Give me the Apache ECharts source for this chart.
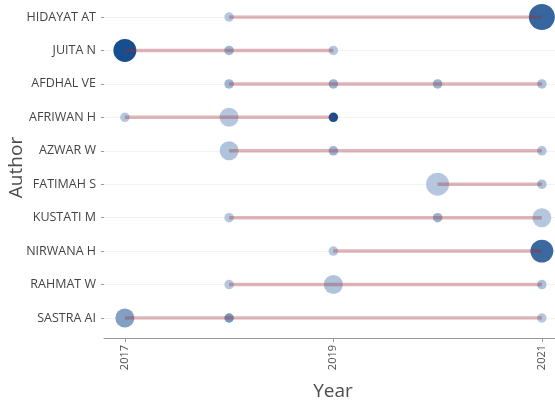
<!DOCTYPE html>
<html>
<head>
<meta charset="utf-8">
<script src="https://cdn.jsdelivr.net/npm/echarts@6/dist/echarts.min.js"></script>
<style>html,body{margin:0;padding:0;background:#fff;}#chart{width:555px;height:403px;}</style>
</head>
<body>
<div id="chart"></div>
<script>
// Authors (top to bottom)
const authors = ['HIDAYAT AT','JUITA N','AFDHAL VE','AFRIWAN H','AZWAR W','FATIMAH S','KUSTATI M','NIRWANA H','RAHMAT W','SASTRA AI'];
// Year tick labels
const yearTicks = [2017, 2019, 2021];
// Points: author index, year, number of articles, total citations per year
const pointAuthor   = [0,0, 1,1,1, 2,2,2,2, 3,3,3, 4,4,4, 5,5, 6,6,6, 7,7, 8,8,8, 9,9,9];
const pointYear     = [2018,2021, 2017,2018,2019, 2018,2019,2020,2021, 2017,2018,2019, 2018,2019,2021, 2020,2021, 2018,2020,2021, 2019,2021, 2018,2019,2021, 2017,2018,2021];
const pointArticles = [1,4, 3,1,1, 1,1,1,1, 1,2,1, 2,1,1, 3,1, 1,1,2, 1,3, 1,2,1, 2,1,1];
const pointTC       = [1,8.2, 10,2.3,1, 2.3,2.5,2.5,1.5, 1,1,10, 1.3,2.5,1.3, 1,1.5, 1,2.5,1, 1,8, 1,1.3,1.5, 3.9,4.6,1];

const scatterData = pointAuthor.map((a, i) => [pointYear[i], a, pointArticles[i], pointTC[i]]);

// one segment per author, from first to last year
const lineSeries = authors.map((name, ai) => {
  const ys = pointYear.filter((y, i) => pointAuthor[i] === ai);
  return {
    type: 'line', name: name, silent: true, symbol: 'none', z: 5, animation: false,
    lineStyle: { color: 'rgba(160,40,50,0.34)', width: 3.5 },
    data: [[Math.min(...ys), ai], [Math.max(...ys), ai]]
  };
});

const chart = echarts.init(document.getElementById('chart'), null, { renderer: 'canvas' });
const font = 'Open Sans';
chart.setOption({
  animation: false,
  backgroundColor: '#ffffff',
  grid: { left: 104, right: 0, top: 17, bottom: 85, containLabel: false, outerBoundsMode: 'none' },
  visualMap: {
    show: false, type: 'continuous', dimension: 3, seriesIndex: 0,
    min: 1, max: 10, inRange: { color: ['#b0c4dc', '#0b4589'] }
  },
  xAxis: {
    type: 'value', min: 2016.8, max: 2021.126, offset: 20,
    axisLine: { show: true, onZero: false, lineStyle: { color: '#9a9a9a', width: 1 } },
    axisTick: { show: true, customValues: yearTicks, length: 4, lineStyle: { color: '#9a9a9a' } },
    axisLabel: { customValues: yearTicks, formatter: v => String(v), rotate: 90, fontSize: 11, color: '#4d4d4d', margin: 7, fontFamily: font },
    splitLine: { show: false },
    name: 'Year', nameLocation: 'middle', nameGap: 44, nameMoveOverlap: false,
    nameTextStyle: { fontSize: 19, color: '#4d4d4d', fontFamily: font, padding: [0, 0, 0, 7] }
  },
  yAxis: {
    type: 'value', inverse: true, min: 0, max: 9, interval: 1,
    axisLine: { show: false, onZero: false },
    axisTick: { show: true, length: 3, lineStyle: { color: '#9a9a9a' } },
    axisLabel: { formatter: v => authors[v] || '', fontSize: 12.5, color: '#444444', margin: 8, fontFamily: font },
    splitLine: { show: true, lineStyle: { color: '#f2f2f2', width: 1 } },
    name: 'Author', nameLocation: 'middle', nameGap: 78, nameMoveOverlap: false,
    nameTextStyle: { fontSize: 19, color: '#4d4d4d', fontFamily: font }
  },
  series: [
    {
      type: 'scatter', z: 3, clip: false, animation: false,
      symbolSize: d => 9.5 + 9.5 * Math.sqrt(d[2] - 1),
      itemStyle: { opacity: 0.95 },
      data: scatterData
    }
  ].concat(lineSeries)
});
</script>
</body>
</html>
